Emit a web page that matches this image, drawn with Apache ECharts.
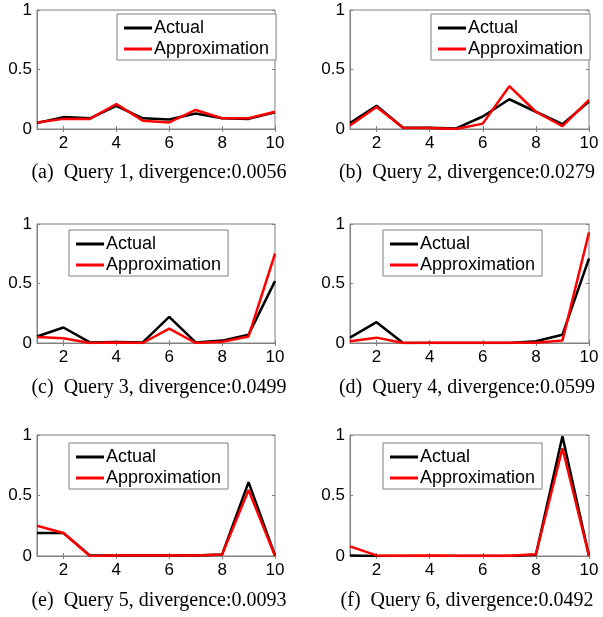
<!DOCTYPE html>
<html><head><meta charset="utf-8">
<script src="https://cdn.jsdelivr.net/npm/echarts@6/dist/echarts.min.js"></script>
<style>html,body{margin:0;padding:0;background:#fff}#c{width:603px;height:617px}</style>
</head><body><div id="c"></div>
<script>
const xs = [1,2,3,4,5,6,7,8,9,10];
const xTicks = [2,4,6,8,10];
const yTicks = [0,0.5,1];
const captions = [
  "(a)\u00a0\u00a0Query 1, divergence:0.0056",
  "(b)\u00a0\u00a0Query 2, divergence:0.0279",
  "(c)\u00a0\u00a0Query 3, divergence:0.0499",
  "(d)\u00a0\u00a0Query 4, divergence:0.0599",
  "(e)\u00a0\u00a0Query 5, divergence:0.0093",
  "(f)\u00a0\u00a0Query 6, divergence:0.0492"
];
const actual1 = [0.05,0.10,0.09,0.195,0.09,0.08,0.13,0.09,0.085,0.14];
const approx1 = [0.055,0.085,0.085,0.21,0.07,0.055,0.16,0.09,0.09,0.145];
const actual2 = [0.05,0.195,0.01,0.01,0.005,0.105,0.25,0.145,0.04,0.23];
const approx2 = [0.03,0.185,0.01,0.008,0.0,0.045,0.36,0.145,0.025,0.245];
const actual3 = [0.055,0.13,0.005,0.008,0.005,0.22,0.005,0.02,0.07,0.52];
const approx3 = [0.05,0.04,0.0,0.005,0.0,0.12,0.0,0.01,0.055,0.75];
const actual4 = [0.045,0.175,0.0,0.0,0.0,0.0,0.0,0.015,0.07,0.71];
const approx4 = [0.015,0.045,0.0,0.002,0.002,0.002,0.002,0.002,0.02,0.93];
const actual5 = [0.19,0.19,0.005,0.005,0.005,0.005,0.005,0.012,0.61,0.005];
const approx5 = [0.25,0.19,0.0,0.004,0.004,0.004,0.004,0.012,0.545,0.0];
const actual6 = [0.005,0.0,0.0,0.0,0.0,0.0,0.0,0.01,0.99,0.0];
const approx6 = [0.08,0.005,0.002,0.004,0.002,0.002,0.002,0.015,0.89,0.0];
const actualSets = [actual1,actual2,actual3,actual4,actual5,actual6];
const approxSets = [approx1,approx2,approx3,approx4,approx5,approx6];

const grids = [
  {left:37, top:10, width:238, height:119},
  {left:350, top:10, width:239, height:119},
  {left:37, top:224, width:238, height:119},
  {left:350, top:224, width:239, height:119},
  {left:37, top:435, width:238, height:121},
  {left:350, top:435, width:239, height:121}
];
const legendPos = [
  {left:117, top:14},{left:431, top:14},
  {left:69, top:230},{left:383, top:230},
  {left:69, top:443},{left:383, top:443}
];
const captionPos = [
  {x:159, y:173},{x:467, y:173},
  {x:159, y:388},{x:467, y:388},
  {x:159, y:601},{x:467, y:601}
];

const sans = "'Liberation Sans', Arial, sans-serif";
const serif = "'Liberation Serif', 'Times New Roman', serif";
const frame = '#808080';

const option = {
  animation:false,
  backgroundColor:'#fff',
  grid: grids.map(g => Object.assign({show:true, borderColor:frame, borderWidth:1, backgroundColor:'transparent'}, g)),
  xAxis: [], yAxis: [], series: [], legend: [], graphic: []
};
grids.forEach((g,i) => {
  option.xAxis.push({
    type:'value', gridIndex:i, min:1, max:10, position:'bottom',
    axisLine:{show:true, lineStyle:{color:frame}},
    axisTick:{show:true, inside:true, length:3, lineStyle:{color:frame}, customValues:xTicks},
    axisLabel:{color:'#000', fontFamily:sans, fontSize:17, margin:6, customValues:xTicks},
    splitLine:{show:false}
  });
  option.xAxis.push({
    type:'value', gridIndex:i, min:1, max:10, position:'top',
    axisLine:{show:false},
    axisTick:{show:true, inside:true, length:3, lineStyle:{color:frame}, customValues:xTicks},
    axisLabel:{show:false, customValues:xTicks},
    splitLine:{show:false}
  });
  option.yAxis.push({
    type:'value', gridIndex:i, min:0, max:1, interval:0.5, position:'left',
    axisLine:{show:true, lineStyle:{color:frame}},
    axisTick:{show:true, inside:true, length:3, lineStyle:{color:frame}},
    axisLabel:{color:'#000', fontFamily:sans, fontSize:17, margin:5, formatter: v => String(v)},
    splitLine:{show:false}
  });
  option.yAxis.push({
    type:'value', gridIndex:i, min:0, max:1, interval:0.5, position:'right',
    axisLine:{show:false},
    axisTick:{show:true, inside:true, length:3, lineStyle:{color:frame}},
    axisLabel:{show:false},
    splitLine:{show:false}
  });
  option.series.push({
    name:'Actual', type:'line', xAxisIndex:2*i, yAxisIndex:2*i,
    data: xs.map((x,k) => [x, actualSets[i][k]]),
    symbol:'none', color:'#000', lineStyle:{color:'#000', width:2.5}, z:2
  });
  option.series.push({
    name:'Approximation', type:'line', xAxisIndex:2*i, yAxisIndex:2*i,
    data: xs.map((x,k) => [x, approxSets[i][k]]),
    symbol:'none', color:'#ff0000', lineStyle:{color:'#ff0000', width:2.5}, z:3
  });
  option.legend.push(Object.assign({
    orient:'vertical', data:['Actual','Approximation'],
    icon:'rect', itemWidth:28, itemHeight:3, itemGap:3,
    padding:[5,7,2,7], borderColor:frame, borderWidth:1, backgroundColor:'#fff',
    textStyle:{color:'#000', fontFamily:sans, fontSize:18, padding:[0,0,0,-3]},
    selectedMode:false
  }, legendPos[i]));
  option.graphic.push({
    type:'text', x:captionPos[i].x, y:captionPos[i].y,
    style:{text:captions[i], fill:'#000', font:"20px " + serif, textAlign:'center', textVerticalAlign:'middle'}
  });
});
const chart = echarts.init(document.getElementById('c'), null, {renderer:'canvas'});
chart.setOption(option);
</script></body></html>
